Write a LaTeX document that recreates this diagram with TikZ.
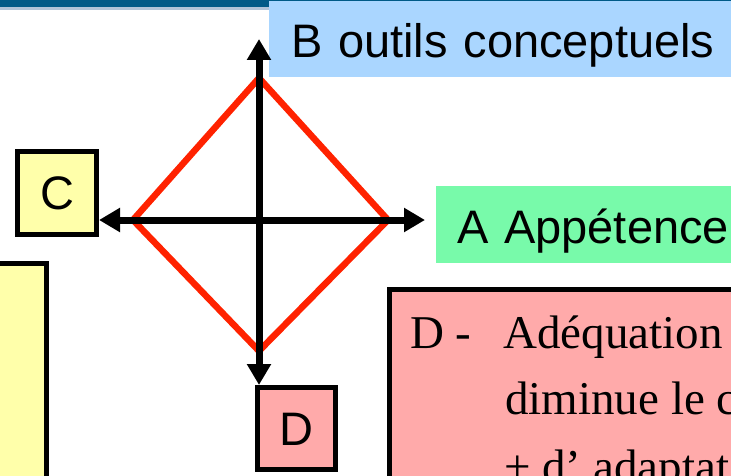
\documentclass[tikz,border=0pt]{standalone}
\usepackage{fontspec}
\setmainfont{Liberation Serif}
\setsansfont{Liberation Sans}
\usetikzlibrary{arrows.meta}
\definecolor{bandeau}{RGB}{0,90,135}
\definecolor{filet}{RGB}{176,196,216}
\definecolor{bleuclair}{RGB}{170,214,255}
\definecolor{vertclair}{RGB}{120,250,170}
\definecolor{jaune}{RGB}{255,255,170}
\definecolor{rose}{RGB}{255,170,170}
\definecolor{rouge}{RGB}{255,34,0}

\begin{document}
\begin{tikzpicture}[x=1pt, y=-1pt,
        etiquette/.style={anchor=north west, inner xsep=22pt, inner ysep=0pt,
            text width=440pt, align=left, text height=37pt, text depth=0pt,
            font=\sffamily\fontsize{47}{52}\selectfont},
        lettre/.style={draw=black, line width=5pt, inner sep=0pt,
            minimum width=79pt, minimum height=83pt, text height=33pt, text depth=0pt,
            font=\sffamily\fontsize{47}{52}\selectfont},
        boite/.style={draw=black, line width=5pt, inner sep=0pt},
        texte/.style={anchor=base west, inner sep=0pt,
            font=\rmfamily\fontsize{47}{52}\selectfont},
        axe/.style={line width=7pt, -{Triangle[length=21pt,width=23pt]}},
        losange/.style={draw=rouge, line width=6.5pt, line join=miter}]
    \useasboundingbox (0,0) rectangle (731,476);
    \clip (0,0) rectangle (731,476);
    % bandeau du haut
        \fill[bandeau] (0,0) rectangle (731,7.5);
        \fill[filet] (0,7.5) rectangle (731,10);
    % les boites
        \node[etiquette, fill=bleuclair, minimum height=76pt] (B) at (269,1) {B outils conceptuels};
        \node[etiquette, fill=vertclair, minimum height=77pt, inner xsep=21pt] (A) at (436,186) {A Appétence};
        \node[lettre, fill=jaune] (C) at (57,193) {C};
        \node[lettre, fill=rose, minimum width=78pt, minimum height=82pt] (D) at (296.5,428.5) {D};
        \node[boite, fill=jaune, anchor=north east, minimum width=100pt, minimum height=300pt] (notes) at (49,261) {};
        \node[boite, fill=rose, anchor=north west, minimum width=400pt, minimum height=250pt] (adequation) at (387,287) {};
    % texte de la boite rose
        \node[texte] (d1) at (410,348) {D -};
        \node[texte] (d2) at (503,348) {Adéquation};
        \node[texte] (d3) at (505,414) {diminue le c};
        \node[texte] (d4) at (504,482) {+ d’ adaptat};
    % le losange rouge
        \draw[losange] (259,78) -- (388,220) -- (259,351) -- (133,220) -- cycle;
    % les axes
        \coordinate (O) at (259,220);
        \coordinate (Bt) at (259,39);
        \coordinate (At) at (425,220);
        \draw[axe] (O) -- (Bt);
        \draw[axe] (O) -- (At);
        \draw[axe] (O) -- (C.east |- O);
        \draw[axe] (O) -- (D.north -| O);
\end{tikzpicture}
\end{document}
